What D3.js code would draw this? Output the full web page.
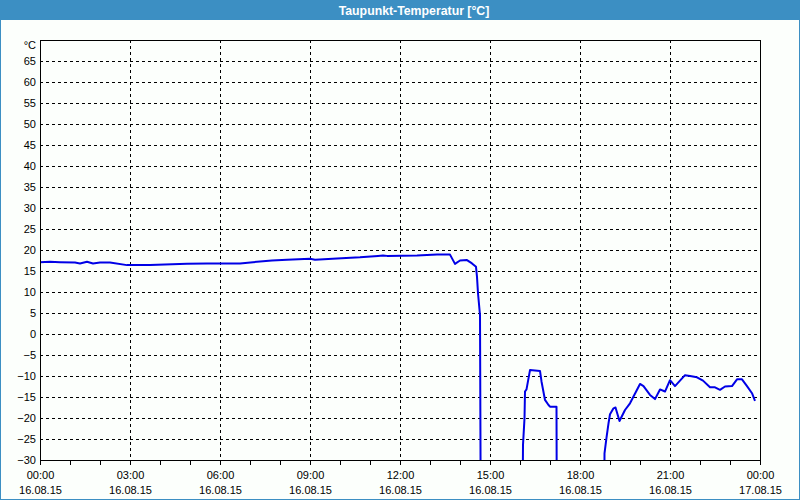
<!DOCTYPE html>
<html><head><meta charset="utf-8">
<script src="https://cdn.jsdelivr.net/npm/d3@7"></script>
<style>body{margin:0;background:#fff}svg{display:block}</style>
</head><body><svg id="c" width="800" height="500"></svg>
<script>
const title = "Taupunkt-Temperatur [°C]";
const unitLabel = "°C";
// sample times on 16.08.15 and dew point values (°C); values below -30 lie under the plot floor
const times = ["00:00","00:20","00:40","01:10","01:20","01:34","01:46","02:00","02:20","02:54","03:40","04:54","05:34","06:40","07:06","07:44","08:14","09:00","09:10","09:54","10:40","11:16","11:26","11:34","12:34","13:14","13:40","13:50","14:00","14:14","14:24","14:32","14:34","14:36","14:40","14:42",
"16:04","16:06","16:09","16:10","16:13","16:20","16:30","16:40","16:43","16:50","16:57","17:00","17:13","17:14",
"18:48","18:49","18:53","18:57","19:00","19:07","19:11","19:19","19:30","19:40","20:00","20:07","20:20","20:30","20:40","20:50","21:00","21:10","21:20","21:30","21:40","21:54","22:06","22:20","22:30","22:40","22:50","23:04","23:14","23:24","23:34","23:44","23:50"];
const values = [17.1,17.2,17.1,17.0,16.8,17.2,16.8,17.0,17.0,16.4,16.4,16.7,16.8,16.8,17.1,17.5,17.7,17.9,17.7,18.0,18.25,18.6,18.7,18.6,18.7,18.9,18.9,16.7,17.5,17.6,16.8,16.0,13.6,9.7,4.5,-60,
-60,-26.4,-20.1,-13.7,-13.2,-8.6,-8.7,-8.8,-11.3,-15.7,-16.9,-17.3,-17.3,-60,
-60,-28.4,-24.7,-21.3,-19.1,-17.7,-17.5,-20.7,-18.1,-16.5,-11.9,-12.4,-14.5,-15.5,-13.2,-13.7,-11.0,-12.4,-11.1,-9.8,-10.0,-10.3,-11.1,-12.7,-12.7,-13.3,-12.5,-12.4,-10.8,-10.8,-12.4,-14.1,-15.9];
const yTicks = [-30,-25,-20,-15,-10,-5,0,5,10,15,20,25,30,35,40,45,50,55,60,65];
const yGrid = [-25,-20,-15,-10,-5,0,5,10,15,20,25,30,35,40,45,50,55,60,65];
const xLabelHours = [0,3,6,9,12,15,18,21,24];
const xGridHours = [3,6,9,12,15,18,21];

const svg = d3.select("#c");
const W = 800, H = 500;
const L = 40, R = 760, T = 40, B = 460;
const blue = "#3c8fc3";
const day0 = new Date(2015,7,16,0,0);
const hourDate = h => new Date(2015,7,16,h,0);
const parse = s => { const [h,m] = s.split(":").map(Number); return new Date(2015,7,16,h,m); };

const x = d3.scaleTime().domain([day0, hourDate(24)]).range([L, R]);
const y = d3.scaleLinear().domain([-30, 70]).range([B, T]);

svg.append("rect").attr("width",W).attr("height",H).attr("fill","#fcfffc");
svg.append("rect").attr("x",0).attr("y",0).attr("width",W).attr("height",20).attr("fill",blue);
svg.append("rect").attr("x",0.5).attr("y",0.5).attr("width",W-1).attr("height",H-1)
  .attr("fill","none").attr("stroke",blue).attr("stroke-width",1);
svg.append("text").attr("x",414).attr("y",14.5).attr("text-anchor","middle")
  .attr("font-family","Liberation Sans, Arial, sans-serif").attr("font-weight","bold")
  .attr("font-size",12.3).attr("fill","#fff").text(title);

const font = "Liberation Sans, Arial, sans-serif";

// grid
const g = svg.append("g").attr("shape-rendering","crispEdges");
g.selectAll("line.hg").data(yGrid).join("line").attr("class","hg")
  .attr("x1",L).attr("x2",R).attr("y1",d=>Math.round(y(d))+0.5).attr("y2",d=>Math.round(y(d))+0.5)
  .attr("stroke","#000").attr("stroke-dasharray","3,3");
g.selectAll("line.vg").data(xGridHours).join("line").attr("class","vg")
  .attr("y1",T).attr("y2",B).attr("x1",d=>Math.round(x(hourDate(d)))+0.5).attr("x2",d=>Math.round(x(hourDate(d)))+0.5)
  .attr("stroke","#000").attr("stroke-dasharray","3,3");

// line
svg.append("clipPath").attr("id","clip").append("rect").attr("x",L).attr("y",T).attr("width",R-L).attr("height",B-T);
const data = times.map((t,i)=>({t:parse(t), v:values[i]}));
svg.append("path").datum(data).attr("clip-path","url(#clip)")
  .attr("fill","none").attr("stroke","#0000e6").attr("stroke-width",2).attr("stroke-linejoin","round")
  .attr("d", d3.line().x(d=>x(d.t)).y(d=>y(d.v)));

// frame
svg.append("rect").attr("x",L+0.5).attr("y",T+0.5).attr("width",R-L).attr("height",B-T)
  .attr("fill","none").attr("stroke","#000").attr("shape-rendering","crispEdges");

// y axis
const ya = svg.append("g").attr("transform",`translate(${L},0)`)
  .call(d3.axisLeft(y).tickValues(yTicks).tickSize(0).tickPadding(4).tickFormat(d3.format("d")));
ya.select(".domain").remove();
ya.selectAll("text").attr("font-family",font).attr("font-size",11).attr("fill","#000");
svg.append("text").attr("x",L-4).attr("y",y(70)+5).attr("dy","0.32em").attr("text-anchor","end")
  .attr("font-family",font).attr("font-size",11).text(unitLabel);

// x axis: hour ticks
const hours = d3.range(0,25);
const xa = svg.append("g").attr("transform",`translate(0,${B+0.5})`).attr("shape-rendering","crispEdges")
  .call(d3.axisBottom(x).tickValues(hours.map(hourDate)).tickSize(4).tickFormat(""));
xa.select(".domain").remove();
xa.selectAll(".tick line").attr("stroke","#000");

const xl = svg.append("g").attr("transform",`translate(0,${B})`)
  .call(d3.axisBottom(x).tickValues(xLabelHours.map(hourDate)).tickSize(0).tickFormat(d3.timeFormat("%H:%M")));
xl.select(".domain").remove();
xl.selectAll(".tick text").each(function(d){
  const el = d3.select(this);
  el.text(null).attr("y",0).attr("dy",null).attr("font-family",font).attr("font-size",11).attr("fill","#000");
  el.append("tspan").attr("x",0).attr("y",19).text(d3.timeFormat("%H:%M")(d));
  el.append("tspan").attr("x",0).attr("y",34).text(d3.timeFormat("%d.%m.%y")(d));
});
</script></body></html>
